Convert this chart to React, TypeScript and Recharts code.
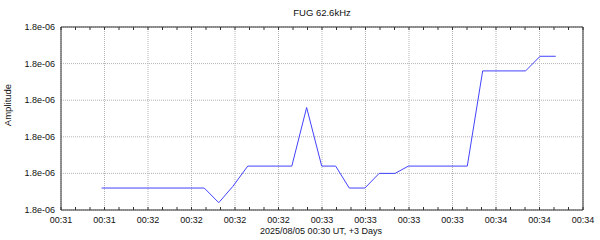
import { CartesianGrid, Line, LineChart, XAxis, YAxis } from "recharts";

// seconds after 00:31:30 UT
const times = [14.0, 49.4, 54.4, 59.3, 64.4, 79.6, 84.7, 89.9, 94.7, 99.4, 104.8, 109.7, 115.2, 119.8, 140.1, 145.4, 160.2, 165.2, 170.6];
const amplitudes = [
  1.79962e-6, 1.79962e-6, 1.79954e-6, 1.79963e-6, 1.79974e-6, 1.79974e-6, 1.80006e-6, 1.79974e-6, 1.79974e-6, 1.79962e-6,
  1.79962e-6, 1.7997e-6, 1.7997e-6, 1.79974e-6, 1.79974e-6, 1.80026e-6, 1.80026e-6, 1.80034e-6, 1.80034e-6
];

const majorTicks = [0, 15, 30, 45, 60, 75, 90, 105, 120, 135, 150, 165, 180];
const majorLabels = ["00:31", "00:31", "00:32", "00:32", "00:32", "00:32", "00:33", "00:33", "00:33", "00:33", "00:34", "00:34", "00:34"];
const minorTicks = Array.from({ length: 37 }, (_, i) => i * 5);

const yTicks = [1.7995e-6, 1.7997e-6, 1.7999e-6, 1.8001e-6, 1.8003e-6, 1.8005e-6];
const yDomain: [number, number] = [1.7995e-6, 1.8005e-6];

const data = times.map((t, i) => ({ t, amp: amplitudes[i] }));

const FONT = "'Liberation Sans', Arial, Helvetica, sans-serif";
const AXIS = "#333";

function fmtExp(v: number) {
  const [m, e] = v.toExponential(1).split("e");
  const n = Number(e);
  return `${m}e${n < 0 ? "-" : "+"}${String(Math.abs(n)).padStart(2, "0")}`;
}

function BottomTick(props: any) {
  const { x, y, payload } = props;
  const idx = majorTicks.indexOf(payload.value);
  return (
    <g>
      <line x1={x} x2={x} y1={y} y2={y - 3} stroke={AXIS} />
      {idx >= 0 ? (
        <text x={x} y={y + 12.5} textAnchor="middle" fontSize={9} fontFamily={FONT} fill="#111">
          {majorLabels[idx]}
        </text>
      ) : null}
    </g>
  );
}

function TopTick(props: any) {
  const { x, y } = props;
  return <line x1={x} x2={x} y1={y} y2={y + 3} stroke={AXIS} />;
}

function LeftTick(props: any) {
  const { x, y, payload } = props;
  return (
    <text x={x - 6} y={y + 3} textAnchor="end" fontSize={9} fontFamily={FONT} fill="#111">
      {fmtExp(payload.value)}
    </text>
  );
}

function RightTick(props: any) {
  const { x, y } = props;
  return <line x1={x} x2={x - 3} y1={y} y2={y} stroke={AXIS} />;
}

export default function App() {
  return (
    <div style={{ position: "absolute", left: 0, top: 0, width: 600, height: 240, background: "#fff", fontFamily: FONT }}>
      <LineChart width={600} height={240} data={data} margin={{ top: 17, right: 7, bottom: 0, left: 6 }}>
        <CartesianGrid
          verticalValues={majorTicks}
          horizontalValues={yTicks}
          stroke="#b4b4b4"
          strokeDasharray="1 1"
        />
        <XAxis
          dataKey="t"
          type="number"
          domain={[0, 180]}
          ticks={minorTicks}
          interval={0}
          height={30}
          tickSize={0}
          tickMargin={0}
          tickLine={false}
          axisLine={{ stroke: AXIS }}
          tick={<BottomTick />}
        />
        <XAxis
          xAxisId="top"
          orientation="top"
          dataKey="t"
          type="number"
          domain={[0, 180]}
          ticks={minorTicks}
          interval={0}
          height={10}
          tickSize={0}
          tickMargin={0}
          tickLine={false}
          axisLine={{ stroke: AXIS }}
          tick={<TopTick />}
        />
        <YAxis
          type="number"
          domain={yDomain}
          ticks={yTicks}
          interval={0}
          width={55}
          tickSize={0}
          tickMargin={0}
          tickLine={false}
          axisLine={{ stroke: AXIS }}
          tick={<LeftTick />}
        />
        <YAxis
          yAxisId="right"
          orientation="right"
          type="number"
          domain={yDomain}
          ticks={yTicks}
          interval={0}
          width={10}
          tickSize={0}
          tickMargin={0}
          tickLine={false}
          axisLine={{ stroke: AXIS }}
          tick={<RightTick />}
        />
        <Line
          dataKey="amp"
          type="linear"
          stroke="#4343ff"
          strokeWidth={1}
          dot={false}
          activeDot={false}
          isAnimationActive={false}
        />
        <text x={322} y={16} textAnchor="middle" fontSize={9.5} fontFamily={FONT} fill="#111">
          FUG 62.6kHz
        </text>
        <text x={321} y={234} textAnchor="middle" fontSize={9} fontFamily={FONT} fill="#111">
          2025/08/05 00:30 UT, +3 Days
        </text>
        <text x={11} y={105} transform="rotate(-90 11 105)" textAnchor="middle" fontSize={9.5} fontFamily={FONT} fill="#111">
          Amplitude
        </text>
      </LineChart>
    </div>
  );
}
